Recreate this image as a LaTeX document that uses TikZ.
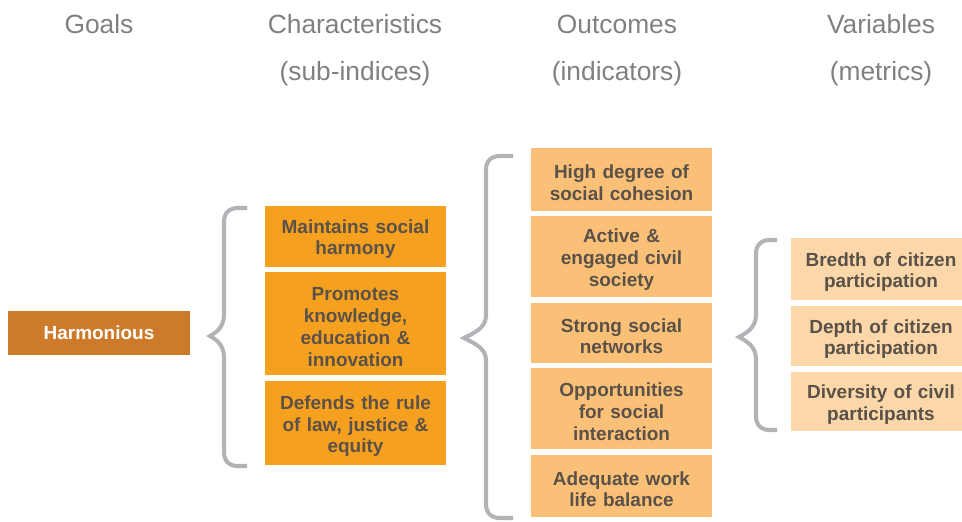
\documentclass[tikz,border=0pt]{standalone}
\usepackage{fontspec}
\setmainfont{Liberation Sans}
\definecolor{headgray}{HTML}{808080}
\definecolor{boxtext}{HTML}{5A5148}
\definecolor{bracegray}{HTML}{B3B3B7}
\definecolor{goalfill}{HTML}{CD7A2A}
\definecolor{charfill}{HTML}{F6A020}
\definecolor{outfill}{HTML}{FBC077}
\definecolor{varfill}{HTML}{FCD7A9}
\begin{document}
\begin{tikzpicture}
[x=0.02cm, y=-0.02cm,
 every node/.style={align=center, inner sep=0pt},
 head/.style={text=headgray, font=\fontsize{15}{18}\selectfont},
 box/.style={minimum width=3.62cm, text=boxtext,
   font=\bfseries\fontsize{10.8}{12.4}\selectfont},
 cell/.style={box, text width=3.5cm, execute at begin node={\rule{0pt}{0.4cm}}},
 brace line/.style={draw=bracegray, line width=2.3pt}]
\useasboundingbox (0,0) rectangle (962,521);
% column headings
\node[head] (goals) at (99,24) {Goals};
\node[head] (chars) at (355,24) {Characteristics};
\node[head] (charsub) at (355,74) {(sub-indices)};
\node[head] (outs) at (617,24) {Outcomes};
\node[head] (outsub) at (617,74) {(indicators)};
\node[head] (vars) at (881,24) {Variables};
\node[head] (varsub) at (881,74) {(metrics)};
% goal
\node[box, fill=goalfill, text=white, minimum width=3.64cm, minimum height=0.88cm]
  (harmonious) at (99,333) {Harmonious};
% characteristics
\node[cell, fill=charfill, minimum height=1.22cm] (char1) at (355.5,236)
  {Maintains social\\harmony};
\node[cell, fill=charfill, minimum height=2.06cm] (char2) at (355.5,323.5)
  {Promotes\\knowledge,\\education \&\\innovation};
\node[cell, fill=charfill, minimum height=1.68cm] (char3) at (355.5,423)
  {Defends the rule\\of law, justice \&\\equity};
% outcomes
\node[cell, fill=outfill, minimum height=1.26cm] (out1) at (621.5,179.5)
  {High degree of\\social cohesion};
\node[cell, fill=outfill, minimum height=1.62cm] (out2) at (621.5,256.5)
  {Active \&\\engaged civil\\society};
\node[cell, fill=outfill, minimum height=1.2cm] (out3) at (621.5,333)
  {Strong social\\networks};
\node[cell, fill=outfill, minimum height=1.62cm] (out4) at (621.5,408.5)
  {Opportunities\\for social\\interaction};
\node[cell, fill=outfill, minimum height=1.24cm] (out5) at (621.5,486)
  {Adequate work\\life balance};
% variables
\node[cell, fill=varfill, minimum width=3.6cm, minimum height=1.24cm] (var1) at (881,269)
  {Bredth of citizen\\participation};
\node[cell, fill=varfill, minimum width=3.6cm, minimum height=1.2cm] (var2) at (881,336)
  {Depth of citizen\\participation};
\node[cell, fill=varfill, minimum width=3.6cm, minimum height=1.18cm] (var3) at (881,401.5)
  {Diversity of civil\\participants};
% braces
\foreach \xt/\xv/\xr/\yt/\ym/\yb in {210/224/247/208/336/466,
                                      464/486/513/156/338/518,
                                      739/756/777/240/337/430}
{
  \draw[brace line] (\xr,\yt) -- (\xv+14,\yt)
    .. controls (\xv+5,\yt) and (\xv,\yt+5) .. (\xv,\yt+14)
    -- (\xv,\ym-22)
    .. controls (\xv,\ym-9) and (\xt+7,\ym-4) .. (\xt,\ym)
    .. controls (\xt+7,\ym+4) and (\xv,\ym+9) .. (\xv,\ym+22)
    -- (\xv,\yb-14)
    .. controls (\xv,\yb-5) and (\xv+5,\yb) .. (\xv+14,\yb)
    -- (\xr,\yb);
}
\end{tikzpicture}
\end{document}
